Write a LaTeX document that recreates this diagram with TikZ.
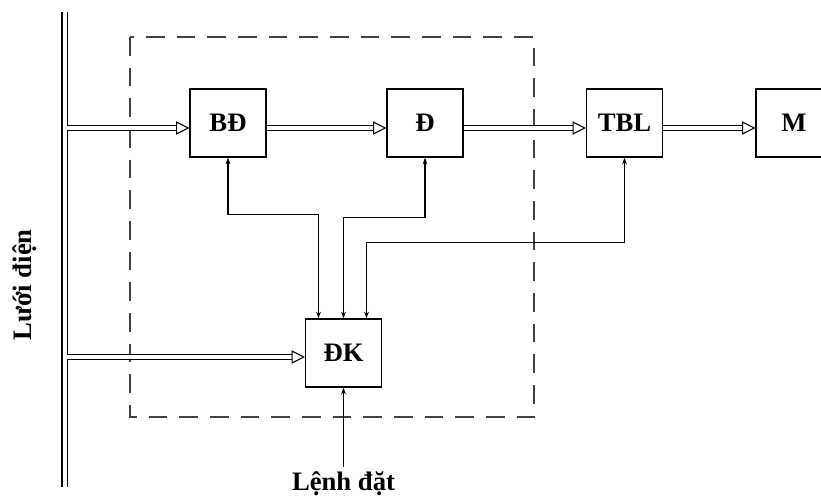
\documentclass[tikz,border=0pt]{standalone}
\usepackage{fontspec}
\setmainfont{Liberation Serif}
\usetikzlibrary{arrows.meta,calc}

\begin{document}
\begin{tikzpicture}[x=0.75pt,y=-0.75pt,
    block/.style={draw, line width=0.9pt, minimum width=57pt, minimum height=51pt,
      inner sep=0pt, font=\bfseries\fontsize{20}{24}\selectfont},
    power/.style={double, double distance=3pt, line width=0.8pt,
      -{Triangle[open, length=10pt, width=10pt, line width=0.8pt, fill=white]}},
    signal/.style={line width=0.9pt, {Stealth[length=5pt,width=3.5pt]}-{Stealth[length=5pt,width=3.5pt]}},
    caption/.style={font=\bfseries\fontsize{20}{24}\selectfont}]
  \useasboundingbox (0,0) rectangle (821,500);

  % Control unit frame
  \draw[black!75, line width=0.9pt, dash pattern=on 14pt off 9pt] (130,37) rectangle (534,417);

  % Supply bus
  \coordinate (bustop) at (64.5,12);
  \coordinate (busbot) at (64.5,487);
  \draw[double, double distance=3pt, line width=1pt] (bustop) -- (busbot);
  \node[caption, rotate=90] (grid) at (25,285) {Lưới điện};

  % Blocks
  \node[block] (bd) at (228,123) {BĐ};
  \node[block] (d) at (425,123) {Đ};
  \node[block] (tbl) at (624.5,123) {TBL};
  \node[block] (m) at (794,123) {M};
  \node[block] (dk) at (343.5,353) {ĐK};

  % Power path
  \coordinate (in1) at (67,128);
  \coordinate (in2) at (67,357);
  \draw[power] (in1) -- (in1 -| bd.west);
  \draw[power] (bd.east |- in1) -- (d.west |- in1);
  \draw[power] (d.east |- in1) -- (tbl.west |- in1);
  \draw[power] (tbl.east |- in1) -- (m.west |- in1);
  \draw[power] (in2) -- (in2 -| dk.west);

  % Control signals
  \draw[signal] (bd.south) -- ++(0,57) -| ($(dk.north)+(-25,0)$);
  \draw[signal] (d.south) -- ++(0,60) -| (dk.north);
  \draw[signal] (tbl.south) -- ++(0,85) -| ($(dk.north)+(23,0)$);

  % Set point
  \node[caption] (cmd) at (343.5,484) {Lệnh đặt};
  \draw[line width=0.9pt, -{Stealth[length=5pt,width=3.5pt]}] (cmd.north) -- (dk.south);
\end{tikzpicture}
\end{document}
